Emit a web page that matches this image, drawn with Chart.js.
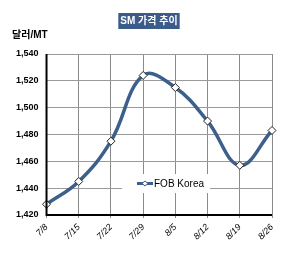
<!DOCTYPE html>
<html>
<head>
<meta charset="utf-8">
<script src="https://cdn.jsdelivr.net/npm/chart.js@4/dist/chart.umd.min.js"></script>
<style>
  html, body { margin: 0; padding: 0; background: #fff; }
  #wrap { width: 299px; height: 257px; }
</style>
</head>
<body>
<div id="wrap"><canvas id="chart" width="299" height="257"></canvas></div>
<script>
'use strict';

// data
const dates = ['7/8', '7/15', '7/22', '7/29', '8/5', '8/12', '8/19', '8/26'];
const fobKorea = [1428, 1445, 1475, 1524, 1515, 1490, 1457, 1483];
const yTicks = [1420, 1440, 1460, 1480, 1500, 1520, 1540];

const lineBlue = '#3d5f8c';
const fontFam = 'Arial, "Liberation Sans", "Noto Sans CJK KR", sans-serif';

// title box, y-axis unit and the legend that sits inside the plot
const extras = {
  id: 'extras',
  afterDraw(chart) {
    const ctx = chart.ctx;
    const area = chart.chartArea;
    ctx.save();

    // title
    ctx.font = 'bold 10px ' + fontFam;
    const title = 'SM 가격 추이';
    const tw = ctx.measureText(title).width;
    const cx = 149;
    ctx.fillStyle = '#3b5b8a';
    ctx.fillRect(cx - tw / 2 - 2, 13, tw + 4, 16);
    ctx.fillStyle = '#fff';
    ctx.textAlign = 'center';
    ctx.textBaseline = 'middle';
    ctx.fillText(title, cx, 21.5);

    // unit
    ctx.font = 'bold 10px ' + fontFam;
    ctx.fillStyle = '#000';
    ctx.textAlign = 'left';
    ctx.fillText('달러/MT', 12, 35);

    // legend
    const lx = 122, ly = 174;
    ctx.fillStyle = '#fff';
    ctx.fillRect(lx, ly, 88, 19);
    ctx.strokeStyle = lineBlue;
    ctx.lineWidth = 3;
    ctx.beginPath();
    ctx.moveTo(lx + 15, ly + 9.5);
    ctx.lineTo(lx + 31, ly + 9.5);
    ctx.stroke();
    ctx.fillStyle = '#fff';
    ctx.lineWidth = 1;
    ctx.beginPath();
    ctx.moveTo(lx + 23, ly + 7);
    ctx.lineTo(lx + 26, ly + 9.5);
    ctx.lineTo(lx + 23, ly + 12);
    ctx.lineTo(lx + 20, ly + 9.5);
    ctx.closePath();
    ctx.fill();
    ctx.stroke();
    ctx.fillStyle = '#000';
    ctx.font = '10px ' + fontFam;
    ctx.fillText('FOB Korea', lx + 32, ly + 10);

    // axis lines
    ctx.strokeStyle = '#000';
    ctx.lineWidth = 2;
    ctx.beginPath();
    ctx.moveTo(area.left, area.top);
    ctx.lineTo(area.left, area.bottom);
    ctx.lineTo(area.right, area.bottom);
    ctx.stroke();
    ctx.restore();
  }
};

let canvasElem = document.getElementById('chart');

let chartConfig = {
  type: 'line',
  data: {
    labels: dates,
    datasets: [{
      label: 'FOB Korea',
      data: fobKorea,
      borderColor: lineBlue,
      borderWidth: 3.5,
      tension: 0.4,
      pointStyle: 'rectRot',
      pointRadius: 4,
      pointBackgroundColor: '#fff',
      pointBorderColor: '#222',
      pointBorderWidth: 1
    }]
  },
  options: {
    responsive: false,
    animation: false,
    devicePixelRatio: 1,
    layout: { padding: { top: 54, right: 27, left: 8, bottom: 11 } },
    plugins: {
      legend: { display: false },
      tooltip: { enabled: false }
    },
    scales: {
      x: {
        offset: false,
        grid: { color: '#8a8a8a', lineWidth: 1, drawTicks: true, tickLength: 3 },
        border: { display: false },
        ticks: {
          color: '#000',
          font: { family: fontFam, size: 9, style: 'italic' },
          minRotation: 45,
          maxRotation: 45,
          padding: 4
        }
      },
      y: {
        min: 1420,
        max: 1540,
        afterBuildTicks(axis) {
          axis.ticks = yTicks.map(v => ({ value: v }));
        },
        grid: { color: '#9a9a9a', lineWidth: 1, drawTicks: false },
        border: { display: false },
        ticks: {
          color: '#000',
          font: { family: fontFam, size: 9, weight: 'bold' },
          padding: 8,
          callback: v => v.toLocaleString('en-US')
        }
      }
    }
  },
  plugins: [extras]
};

let myChart = new Chart(canvasElem, chartConfig);
</script>
</body>
</html>
